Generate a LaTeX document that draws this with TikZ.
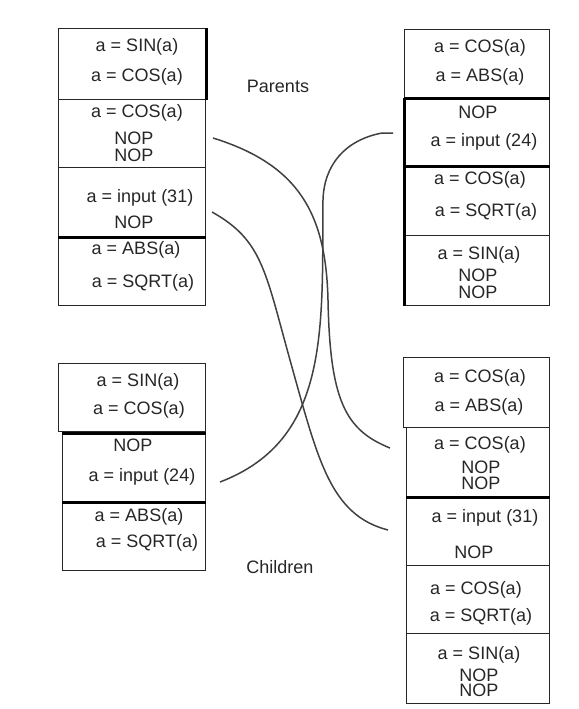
\documentclass[tikz,border=0pt]{standalone}
\usepackage{fontspec}
\setmainfont{Liberation Sans}
\begin{document}
\begin{tikzpicture}[x=0.5pt,y=-0.5pt,
  box/.style={draw=black!85, line width=0.7pt, inner sep=0pt, anchor=north west},
  heavy/.style={draw=black, line width=1.5pt},
  txt/.style={inner sep=0pt, font=\fontsize{9}{10}\selectfont, text=black!85},
  link/.style={draw=black!75, line width=0.75pt}]
\useasboundingbox (0,0) rectangle (579,709);
% ---------- Parents, left
\node[box, minimum width=147*0.5pt, minimum height=71*0.5pt] (lp1) at (58,28) {};
\node[box, minimum width=147*0.5pt, minimum height=68*0.5pt] (lp2) at (58,99) {};
\node[box, minimum width=147*0.5pt, minimum height=70*0.5pt] (lp3) at (58,167) {};
\node[box, minimum width=147*0.5pt, minimum height=68*0.5pt] (lp4) at (58,237) {};
\draw[heavy] (lp1.north east) -- (lp1.south east);
\draw[heavy] (lp4.north west) -- (lp4.north east);
\node[txt] (lp1a) at (137,47) {a = SIN(a)};
\node[txt] (lp1b) at (137,77) {a = COS(a)};
\node[txt] (lp2a) at (137,113) {a = COS(a)};
\node[txt] (lp2b) at (134,138) {NOP};
\node[txt] (lp2c) at (134,155) {NOP};
\node[txt] (lp3a) at (140,198) {a = input (31)};
\node[txt] (lp3b) at (134,222) {NOP};
\node[txt] (lp4a) at (136,250) {a = ABS(a)};
\node[txt] (lp4b) at (143,283) {a = SQRT(a)};
% ---------- Parents, right
\node[box, minimum width=145*0.5pt, minimum height=69*0.5pt] (rp1) at (404,29) {};
\node[box, minimum width=145*0.5pt, minimum height=68*0.5pt] (rp2) at (404,98) {};
\node[box, minimum width=145*0.5pt, minimum height=69*0.5pt] (rp3) at (404,166) {};
\node[box, minimum width=145*0.5pt, minimum height=70*0.5pt] (rp4) at (404,235) {};
\draw[heavy] (rp2.north west) -- (rp2.north east);
\draw[heavy] (rp3.north west) -- (rp3.north east);
\draw[heavy] (rp2.north west) -- (rp4.south west);
\node[txt] (rp1a) at (480,48) {a = COS(a)};
\node[txt] (rp1b) at (480,77) {a = ABS(a)};
\node[txt] (rp2a) at (478,112) {NOP};
\node[txt] (rp2b) at (484,142) {a = input (24)};
\node[txt] (rp3a) at (480,180) {a = COS(a)};
\node[txt] (rp3b) at (486,212) {a = SQRT(a)};
\node[txt] (rp4a) at (479,255) {a = SIN(a)};
\node[txt] (rp4b) at (478,275) {NOP};
\node[txt] (rp4c) at (478,292) {NOP};
\node[txt] (parents) at (278,86) {Parents};
% ---------- Children, left
\node[box, minimum width=147*0.5pt, minimum height=68*0.5pt] (lc1) at (58,363) {};
\node[box, minimum width=143*0.5pt, minimum height=69*0.5pt] (lc2) at (62,433) {};
\node[box, minimum width=143*0.5pt, minimum height=68*0.5pt] (lc3) at (62,502) {};
\draw[heavy] (lc2.north west) -- (lc2.north east);
\draw[heavy] (lc3.north west) -- (lc3.north east);
\node[txt] (lc1a) at (138,382) {a = SIN(a)};
\node[txt] (lc1b) at (139,410) {a = COS(a)};
\node[txt] (lc2a) at (133,445) {NOP};
\node[txt] (lc2b) at (142,477) {a = input (24)};
\node[txt] (lc3a) at (139,517) {a = ABS(a)};
\node[txt] (lc3b) at (147,543) {a = SQRT(a)};
% ---------- Children, right
\node[box, minimum width=146*0.5pt, minimum height=70*0.5pt] (rc1) at (403,357) {};
\node[box, minimum width=143*0.5pt, minimum height=70*0.5pt] (rc2) at (406,427) {};
\node[box, minimum width=143*0.5pt, minimum height=68*0.5pt] (rc3) at (406,497) {};
\node[box, minimum width=143*0.5pt, minimum height=68*0.5pt] (rc4) at (406,565) {};
\node[box, minimum width=143*0.5pt, minimum height=70*0.5pt] (rc5) at (406,633) {};
\draw[heavy] (rc3.north west) -- (rc3.north east);
\node[txt] (rc1a) at (480,378) {a = COS(a)};
\node[txt] (rc1b) at (479,407) {a = ABS(a)};
\node[txt] (rc2a) at (480,445) {a = COS(a)};
\node[txt] (rc2b) at (481,467) {NOP};
\node[txt] (rc2c) at (481,483) {NOP};
\node[txt] (rc3a) at (485,518) {a = input (31)};
\node[txt] (rc3b) at (474,552) {NOP};
\node[txt] (rc4a) at (476,590) {a = COS(a)};
\node[txt] (rc4b) at (481,617) {a = SQRT(a)};
\node[txt] (rc5a) at (479,655) {a = SIN(a)};
\node[txt] (rc5b) at (479,675) {NOP};
\node[txt] (rc5c) at (479,690) {NOP};
\node[txt] (children) at (280,567) {Children};
% ---------- crossover links
\coordinate (a0) at (213,138);
\coordinate (a1) at (390,448);
\coordinate (b0) at (212,212);
\coordinate (b1) at (388,530);
\coordinate (c0) at (393,133);
\coordinate (c1) at (220,482);
\draw[link] (a0) .. controls (300,165) and (326,215) .. (328,300)
  .. controls (330,400) and (345,430) .. (a1);
\draw[link] (b0) .. controls (262,240) and (265,270) .. (290,360)
  .. controls (318,460) and (330,515) .. (b1);
\draw[link] (c0) -- (382,133) .. controls (345,140) and (324,165) .. (323,200)
  .. controls (322,330) and (330,440) .. (c1);
\end{tikzpicture}
\end{document}
